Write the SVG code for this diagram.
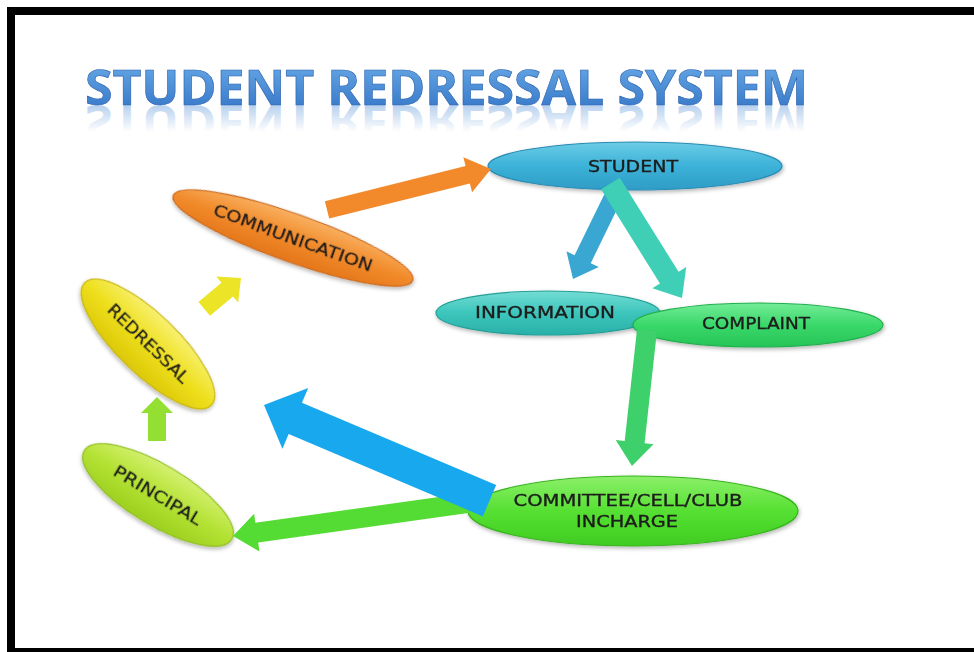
<svg xmlns="http://www.w3.org/2000/svg" xmlns:xlink="http://www.w3.org/1999/xlink" width="974" height="652" viewBox="0 0 974 652">
<style>
.lbl{font-family:"DejaVu Sans","Liberation Sans",sans-serif;font-size:16px;fill:#1c1c1c;stroke:#1c1c1c;stroke-width:0.35;text-anchor:middle;dominant-baseline:central}
.node{stroke-width:1.2}
.title{font-family:"Open Sans","Liberation Sans",sans-serif;font-weight:bold;font-size:48px}
</style>
<defs>
<linearGradient id="gTitle" x1="0" y1="0" x2="0" y2="1">
<stop offset="0" stop-color="#6eb0ea"/><stop offset="1" stop-color="#2f6fc4"/>
</linearGradient>
<linearGradient id="gRefl" gradientUnits="userSpaceOnUse" x1="0" y1="105" x2="0" y2="78">
<stop offset="0" stop-color="#4a8ad4" stop-opacity="0.4"/><stop offset="1" stop-color="#4a8ad4" stop-opacity="0"/>
</linearGradient>
<linearGradient id="gStu" x1="0" y1="0" x2="0" y2="1"><stop offset="0" stop-color="#6ccce6"/><stop offset="0.5" stop-color="#3cb2d8"/><stop offset="1" stop-color="#2e9cc6"/></linearGradient>
<linearGradient id="gCom" x1="0" y1="0" x2="0" y2="1"><stop offset="0" stop-color="#f9b060"/><stop offset="0.5" stop-color="#f18a2a"/><stop offset="1" stop-color="#e4761a"/></linearGradient>
<linearGradient id="gRed" x1="0" y1="0" x2="0" y2="1"><stop offset="0" stop-color="#f8f070"/><stop offset="0.5" stop-color="#eedf1c"/><stop offset="1" stop-color="#dcc808"/></linearGradient>
<linearGradient id="gPri" x1="0" y1="0" x2="0" y2="1"><stop offset="0" stop-color="#d4f070"/><stop offset="0.5" stop-color="#b4e234"/><stop offset="1" stop-color="#9ccf20"/></linearGradient>
<linearGradient id="gInf" x1="0" y1="0" x2="0" y2="1"><stop offset="0" stop-color="#74dcd4"/><stop offset="0.5" stop-color="#3cc6bc"/><stop offset="1" stop-color="#2ab0a8"/></linearGradient>
<linearGradient id="gCpl" x1="0" y1="0" x2="0" y2="1"><stop offset="0" stop-color="#74ec98"/><stop offset="0.5" stop-color="#3ad86a"/><stop offset="1" stop-color="#26c458"/></linearGradient>
<linearGradient id="gCmt" x1="0" y1="0" x2="0" y2="1"><stop offset="0" stop-color="#8cf06a"/><stop offset="0.5" stop-color="#56e032"/><stop offset="1" stop-color="#40cc22"/></linearGradient>
<filter id="sh" x="-10%" y="-20%" width="120%" height="150%">
<feGaussianBlur in="SourceAlpha" stdDeviation="2"/><feOffset dx="1" dy="2"/>
<feComponentTransfer><feFuncA type="linear" slope="0.3"/></feComponentTransfer>
<feMerge><feMergeNode/><feMergeNode in="SourceGraphic"/></feMerge>
</filter>
</defs>
<rect x="0" y="0" width="974" height="652" fill="#ffffff"/>
<g id="frame" fill="#000000">
<rect x="7" y="7" width="967" height="8"/>
<rect x="7" y="7" width="8" height="645"/>
<rect x="7" y="648" width="967" height="4"/>
</g>
<g id="title">
<g fill="url(#gTitle)" stroke="#2d63ad" stroke-width="0.6">
<text id="titleText" class="title" x="85" y="105" textLength="723" lengthAdjust="spacingAndGlyphs">STUDENT REDRESSAL SYSTEM</text>
</g>
<use xlink:href="#titleText" href="#titleText" fill="url(#gRefl)" stroke="none" transform="translate(0,210) scale(1,-1)"/>
</g>
<g id="node-student" filter="url(#sh)">
<ellipse class="node" cx="635" cy="166" rx="147" ry="24" fill="url(#gStu)" stroke="#2a8cb4"/>
<text class="lbl" x="633" y="166" textLength="90" lengthAdjust="spacingAndGlyphs">STUDENT</text>
</g>
<g id="node-communication" filter="url(#sh)" transform="translate(293,238) rotate(19.5)">
<ellipse class="node" cx="0" cy="0" rx="127" ry="24" fill="url(#gCom)" stroke="#c8661a"/>
<text class="lbl" x="0" y="0" textLength="168" lengthAdjust="spacingAndGlyphs">COMMUNICATION</text>
</g>
<g id="node-redressal" filter="url(#sh)" transform="translate(148,344) rotate(44)">
<ellipse class="node" cx="0" cy="0" rx="88" ry="30" fill="url(#gRed)" stroke="#c4b206"/>
<text class="lbl" x="0" y="0" textLength="106" lengthAdjust="spacingAndGlyphs">REDRESSAL</text>
</g>
<g id="node-principal" filter="url(#sh)" transform="translate(158,495) rotate(31)">
<ellipse class="node" cx="0" cy="0" rx="86" ry="30" fill="url(#gPri)" stroke="#8cbc1c"/>
<text class="lbl" x="0" y="0" textLength="100" lengthAdjust="spacingAndGlyphs">PRINCIPAL</text>
</g>
<g id="node-information" filter="url(#sh)">
<ellipse class="node" cx="548" cy="313" rx="112" ry="22" fill="url(#gInf)" stroke="#24a098"/>
<text class="lbl" x="545" y="312" textLength="140" lengthAdjust="spacingAndGlyphs">INFORMATION</text>
</g>
<g id="node-complaint" filter="url(#sh)">
<ellipse class="node" cx="758" cy="325" rx="125" ry="22" fill="url(#gCpl)" stroke="#22b04e"/>
<text class="lbl" x="756" y="323" textLength="108" lengthAdjust="spacingAndGlyphs">COMPLAINT</text>
</g>
<g id="node-committee" filter="url(#sh)">
<ellipse class="node" cx="633" cy="511" rx="165" ry="35" fill="url(#gCmt)" stroke="#38b41e"/>
<text class="lbl" x="628" y="500" textLength="229" lengthAdjust="spacingAndGlyphs">COMMITTEE/CELL/CLUB</text>
<text class="lbl" x="627" y="521" textLength="102" lengthAdjust="spacingAndGlyphs">INCHARGE</text>
</g>
<g id="connectors">
<polygon fill="#f28a2c" points="-169,-9 -24,-9 -24,-18 0,0 -24,18 -24,9 -169,9" transform="translate(491,169) rotate(-14)"/>
<polygon fill="#3aa6d2" points="-90,-9 -22,-9 -22,-18 0,0 -22,18 -22,9 -90,9" transform="translate(573,279) rotate(116)"/>
<polygon fill="#3ecfb6" points="-135,-11 -24,-11 -24,-20 0,0 -24,20 -24,11 -135,11" transform="translate(682,298) rotate(58)"/>
<polygon fill="#3ed06a" points="-137,-10 -24,-10 -24,-19 0,0 -24,19 -24,10 -137,10" transform="translate(632,466) rotate(96.3)"/>
<polygon fill="#54dc34" points="-238,-10 -24,-10 -24,-19 0,0 -24,19 -24,10 -238,10" transform="translate(233,536) rotate(172)"/>
<polygon fill="#18a8ee" points="-245,-17 -34,-17 -34,-33 0,0 -34,33 -34,17 -245,17" transform="translate(264,405) rotate(203)"/>
<polygon fill="#94e032" points="-44,-9 -16,-9 -16,-16 0,0 -16,16 -16,9 -44,9" transform="translate(157,397) rotate(-90)"/>
<polygon fill="#ece426" points="-48,-9 -18,-9 -18,-17 0,0 -18,17 -18,9 -48,9" transform="translate(241,278) rotate(-40)"/>
</g>
</svg>
